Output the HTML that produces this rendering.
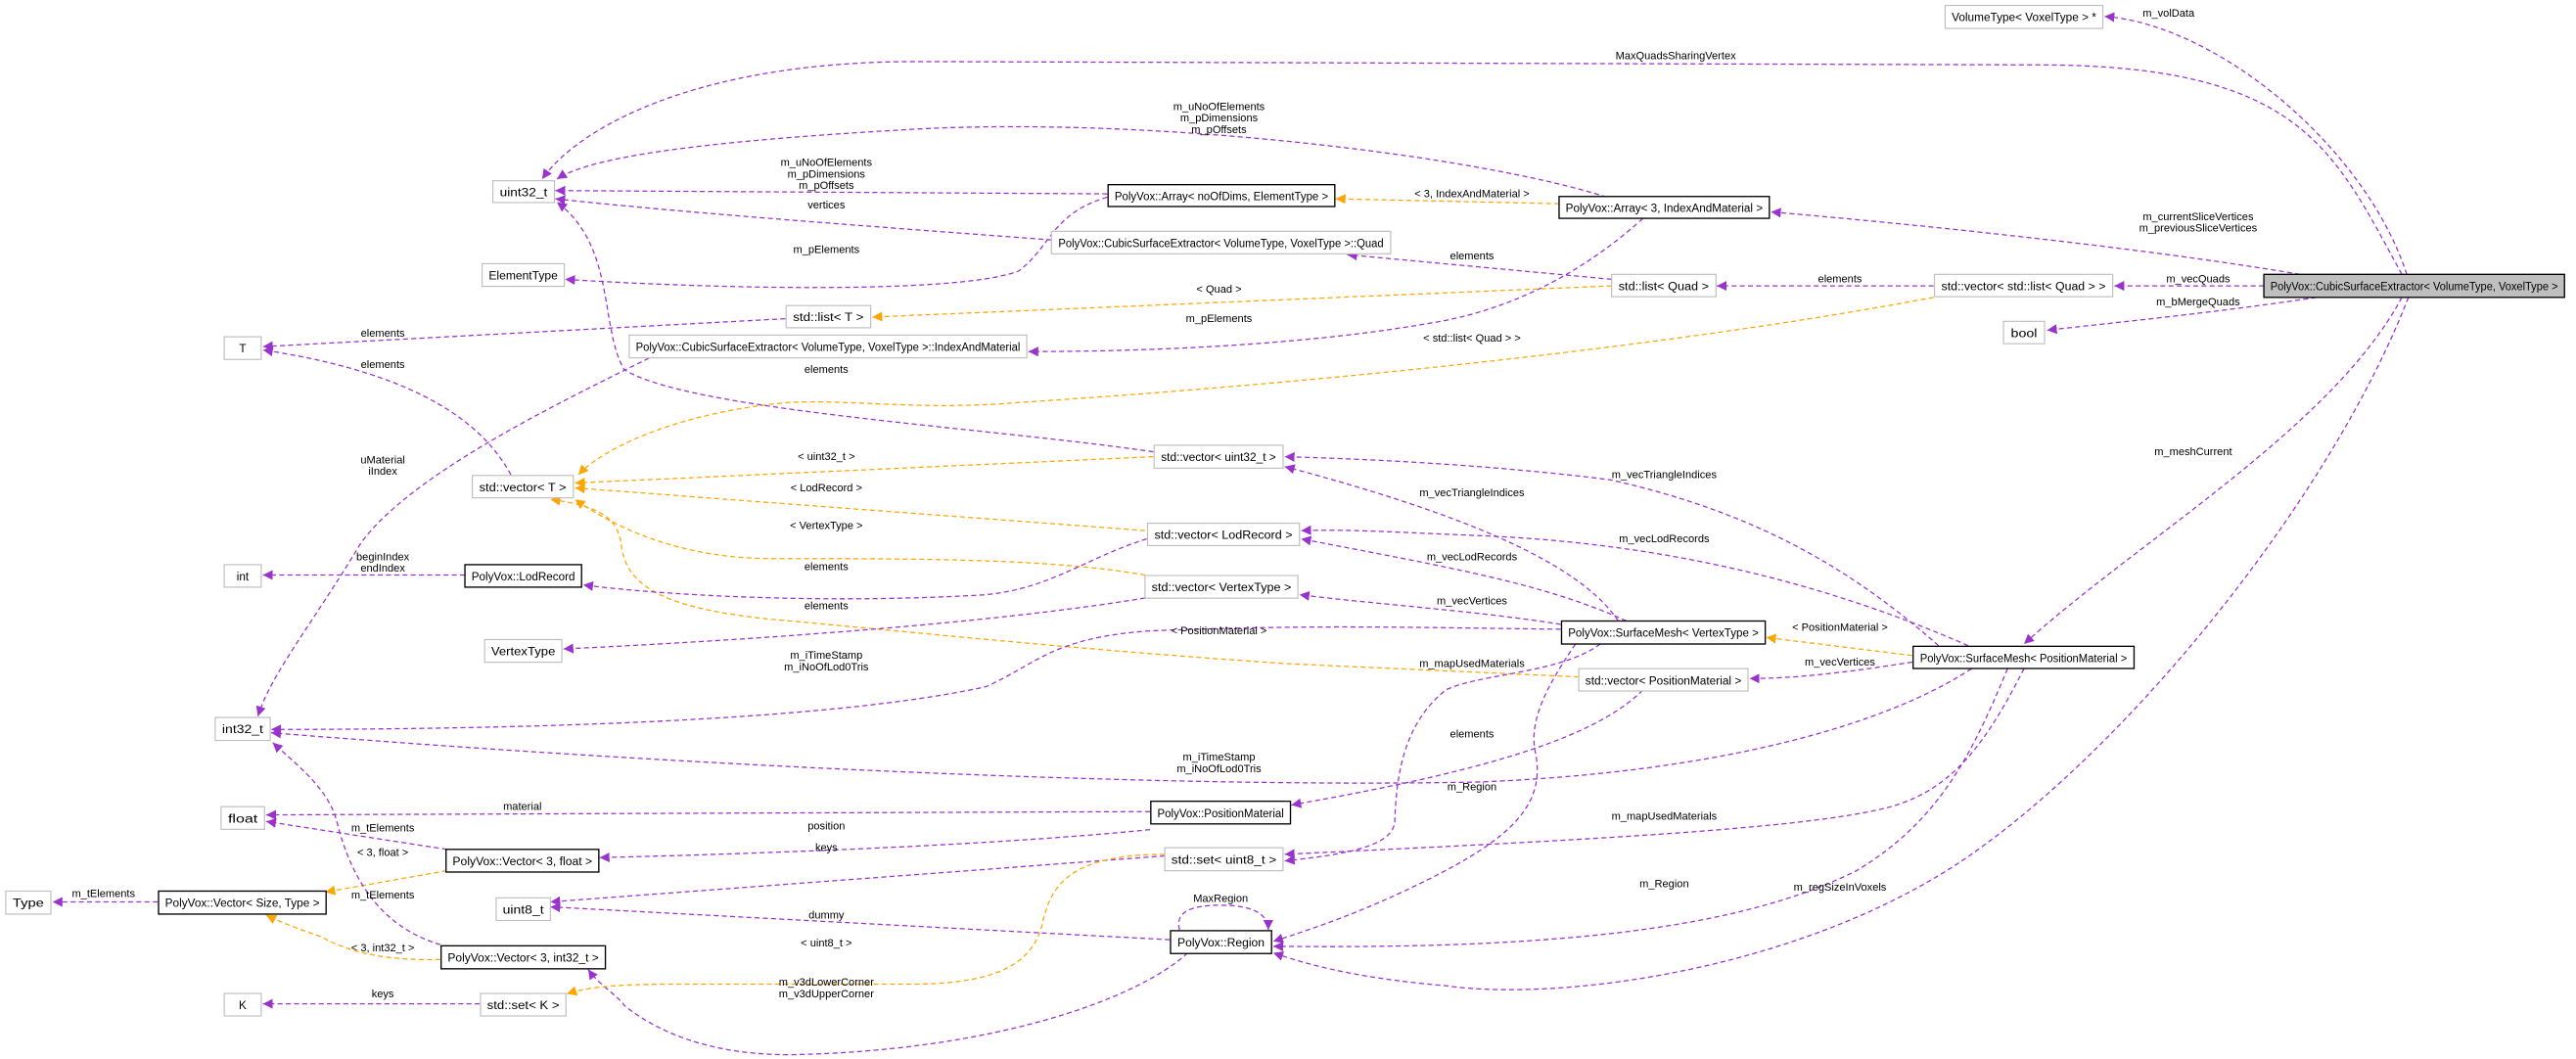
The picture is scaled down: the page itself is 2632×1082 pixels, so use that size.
<!DOCTYPE html>
<html><head><meta charset="utf-8"><style>
html,body{margin:0;padding:0;background:#fff;}
svg{display:block;}
text{font-family:"Liberation Sans","DejaVu Sans",sans-serif;font-size:7px;fill:#000;}
.n{fill:#fff;stroke:#bfbfbf;stroke-width:0.7;}
.b{fill:#fff;stroke:#000;stroke-width:0.8;}
.p{fill:none;stroke:#9a32cd;stroke-width:0.75;stroke-dasharray:3,2;marker-end:url(#ap);}
.o{fill:none;stroke:#ffa500;stroke-width:0.75;stroke-dasharray:3,2;marker-end:url(#ao);}
.l{font-size:6.6px;text-anchor:middle;}
</style></head><body>
<svg width="2632" height="1082" viewBox="0 0 2632 1082" xmlns="http://www.w3.org/2000/svg">
<defs>
<marker id="ap" markerUnits="userSpaceOnUse" markerWidth="8" markerHeight="8" refX="6" refY="3" orient="auto"><path d="M0,0 L6,3 L0,6 Z" fill="#9a32cd"/></marker>
<marker id="ao" markerUnits="userSpaceOnUse" markerWidth="8" markerHeight="8" refX="6" refY="3" orient="auto"><path d="M0,0 L6,3 L0,6 Z" fill="#ffa500"/></marker>
</defs>
<g transform="scale(1.67857)">
<path class="p" d="M1465,167 C1440,90 1350,15 1281,10"/>
<path class="p" d="M1462,167 C1420,90 1400,39.5 1240,39.5 L560,37.5 C420,37 350,80 330,109"/>
<path class="p" d="M978,120 C900,95 700,70 550,79 C430,86 360,95 339,109"/>
<path class="p" d="M674,118 L338,116"/>
<path class="p" d="M640,146 C560,140 420,130 338,121"/>
<path class="p" d="M674,120 C640,130 640,150 620,165 C580,180 420,175 344,170"/>
<path class="o" d="M949,124 L813,121"/>
<path class="p" d="M1000,133 C970,160 930,185 880,195 C800,210 700,214 626,214"/>
<path class="p" d="M981,170 L820,155"/>
<path class="o" d="M981,174 L531,193"/>
<path class="p" d="M1177,174 L1045,174"/>
<path class="p" d="M1378,174 L1287,174"/>
<path class="p" d="M1400,167 C1300,150 1150,135 1078,129"/>
<path class="p" d="M1410,181 C1350,190 1300,195 1246,201"/>
<path class="o" d="M1177,181 C1050,205 850,230 620,245 C560,250 520,243 480,245 C420,250 370,270 352,289"/>
<path class="p" d="M395,218 C330,250 250,290 220,330 C190,380 165,410 157,436"/>
<path class="p" d="M702,275 C600,260 420,250 380,225 C365,200 375,150 339,123"/>
<path class="p" d="M311,289 C290,250 240,225 160,213"/>
<path class="p" d="M478,194 L160,211"/>
<path class="o" d="M702,278 L350,294"/>
<path class="o" d="M697,323 L350,297"/>
<path class="o" d="M697,350 C640,340 560,340 470,340 C420,340 380,325 350,304"/>
<path class="o" d="M961,412 L784,404 C650,395 560,385 470,377 C400,370 380,355 378,330 C375,315 365,308 335,304"/>
<path class="p" d="M698,328 C660,340 640,358 600,362 C500,368 400,362 355,356"/>
<path class="p" d="M283,350 L160,350"/>
<path class="p" d="M697,364 C600,380 450,390 343,395"/>
<path class="p" d="M985,378 C960,340 880,310 782,284"/>
<path class="p" d="M1180,393 C1120,340 1060,310 980,292 C900,282 820,279 782,278"/>
<path class="p" d="M990,378 C940,355 880,345 792,328"/>
<path class="p" d="M1198,393 C1100,350 1000,330 900,326 C850,324 820,322 792,323"/>
<path class="p" d="M950,380 C900,372 840,368 791,362"/>
<path class="p" d="M950,383 C860,382 800,380 700,384 C640,388 630,405 600,418 C500,440 300,444 165,444"/>
<path class="p" d="M1200,407 C1150,440 1050,470 900,476 C700,480 400,465 165,446"/>
<path class="o" d="M1164,399 L1075,388"/>
<path class="p" d="M1164,403 C1120,410 1090,413 1065,413"/>
<path class="p" d="M1000,420 C970,450 900,470 786,490"/>
<path class="p" d="M700,494 L162,496"/>
<path class="p" d="M700,505 C600,515 450,520 365,522"/>
<path class="p" d="M272,517 L162,500"/>
<path class="o" d="M272,530 L198,543"/>
<path class="p" d="M96,549 L32,549"/>
<path class="o" d="M268,584 C230,585 210,578 195,570 C180,565 168,560 162,557"/>
<path class="p" d="M268,575 C235,565 215,540 205,500 C200,480 180,465 166,452"/>
<path class="p" d="M723,580 C690,610 600,640 480,642 C420,642 390,620 380,612 C375,605 365,600 358,590"/>
<path class="p" d="M712,572 L335,552"/>
<path class="p" d="M709,521 L335,549"/>
<path class="o" d="M709,520 C650,520 640,540 635,560 C630,585 610,598 560,599 L420,599 C380,599 360,600 345,605"/>
<path class="p" d="M292,611 L160,611"/>
<path class="p" d="M718,566 C715,555 725,551 743,551 C762,551 772,556 772,566"/>
<path class="p" d="M974,392 C950,410 900,410 880,420 C855,440 850,470 849,500 C848,515 820,520 782,524"/>
<path class="p" d="M959,392 C940,420 930,440 935,460 C940,490 920,510 870,535 C830,555 800,565 775,573"/>
<path class="p" d="M1232,407 C1210,450 1190,480 1151,491 C1100,505 950,512 782,520"/>
<path class="p" d="M1222,407 C1200,460 1180,500 1130,530 C1060,565 950,578 775,576"/>
<path class="p" d="M1462,181 C1420,260 1300,330 1232,392"/>
<path class="p" d="M1466,181 C1420,300 1300,450 1200,520 C1100,590 950,610 880,600 C820,595 790,585 775,580"/>
<text class="l" x="1320" y="10">m_volData</text>
<text class="l" x="1020" y="36">MaxQuadsSharingVertex</text>
<text class="l" x="742" y="67">m_uNoOfElements</text><text class="l" x="742" y="74">m_pDimensions</text><text class="l" x="742" y="81">m_pOffsets</text>
<text class="l" x="503" y="101">m_uNoOfElements</text><text class="l" x="503" y="108">m_pDimensions</text><text class="l" x="503" y="115">m_pOffsets</text>
<text class="l" x="503" y="127">vertices</text>
<text class="l" x="503" y="154">m_pElements</text>
<text class="l" x="896" y="120">&lt; 3, IndexAndMaterial &gt;</text>
<text class="l" x="742" y="196">m_pElements</text>
<text class="l" x="896" y="158">elements</text>
<text class="l" x="742" y="178">&lt; Quad &gt;</text>
<text class="l" x="1120" y="172">elements</text>
<text class="l" x="1338" y="172">m_vecQuads</text>
<text class="l" x="1338" y="134">m_currentSliceVertices</text><text class="l" x="1338" y="141">m_previousSliceVertices</text>
<text class="l" x="1338" y="186">m_bMergeQuads</text>
<text class="l" x="896" y="208">&lt; std::list&lt; Quad &gt; &gt;</text>
<text class="l" x="503" y="227">elements</text>
<text class="l" x="233" y="205">elements</text>
<text class="l" x="233" y="224">elements</text>
<text class="l" x="233" y="282">uMaterial</text><text class="l" x="233" y="289">iIndex</text>
<text class="l" x="503" y="280">&lt; uint32_t &gt;</text>
<text class="l" x="503" y="299">&lt; LodRecord &gt;</text>
<text class="l" x="503" y="322">&lt; VertexType &gt;</text>
<text class="l" x="233" y="341">beginIndex</text><text class="l" x="233" y="348">endIndex</text>
<text class="l" x="503" y="347">elements</text>
<text class="l" x="503" y="371">elements</text>
<text class="l" x="1013" y="291">m_vecTriangleIndices</text>
<text class="l" x="896" y="302">m_vecTriangleIndices</text>
<text class="l" x="1013" y="330">m_vecLodRecords</text>
<text class="l" x="896" y="341">m_vecLodRecords</text>
<text class="l" x="896" y="368">m_vecVertices</text>
<text class="l" x="742" y="386">&lt; PositionMaterial &gt;</text>
<text class="l" x="503" y="401">m_iTimeStamp</text><text class="l" x="503" y="408">m_iNoOfLod0Tris</text>
<text class="l" x="896" y="406">m_mapUsedMaterials</text>
<text class="l" x="1120" y="384">&lt; PositionMaterial &gt;</text>
<text class="l" x="1120" y="405">m_vecVertices</text>
<text class="l" x="896" y="449">elements</text>
<text class="l" x="896" y="481">m_Region</text>
<text class="l" x="742" y="463">m_iTimeStamp</text><text class="l" x="742" y="470">m_iNoOfLod0Tris</text>
<text class="l" x="318" y="493">material</text>
<text class="l" x="503" y="505">position</text>
<text class="l" x="233" y="506">m_tElements</text>
<text class="l" x="1013" y="499">m_mapUsedMaterials</text>
<text class="l" x="233" y="521">&lt; 3, float &gt;</text>
<text class="l" x="503" y="518">keys</text>
<text class="l" x="63" y="546">m_tElements</text>
<text class="l" x="233" y="547">m_tElements</text>
<text class="l" x="503" y="559">dummy</text>
<text class="l" x="1013" y="540">m_Region</text>
<text class="l" x="1120" y="542">m_regSizeInVoxels</text>
<text class="l" x="743" y="549">MaxRegion</text>
<text class="l" x="233" y="579">&lt; 3, int32_t &gt;</text>
<text class="l" x="503" y="576">&lt; uint8_t &gt;</text>
<text class="l" x="503" y="600">m_v3dLowerCorner</text><text class="l" x="503" y="607">m_v3dUpperCorner</text>
<text class="l" x="233" y="607">keys</text>
<text class="l" x="1335" y="277">m_meshCurrent</text>
<rect x="1378" y="167" width="183" height="14" fill="#bfbfbf" stroke="#000" stroke-width="0.8"/><text x="1469.5" y="176.6" text-anchor="middle" textLength="175" lengthAdjust="spacingAndGlyphs">PolyVox::CubicSurfaceExtractor&lt; VolumeType, VoxelType &gt;</text>
<rect class="n" x="1184" y="3.3" width="96" height="14"/><text x="1232" y="12.9" text-anchor="middle" textLength="88" lengthAdjust="spacingAndGlyphs">VolumeType&lt; VoxelType &gt; *</text>
<rect class="n" x="300" y="110" width="37.5" height="13.3"/><text x="318.7" y="119.3" text-anchor="middle" textLength="29" lengthAdjust="spacingAndGlyphs">uint32_t</text>
<rect class="b" x="674.5" y="112.4" width="138" height="13.3"/><text x="743.5" y="121.7" text-anchor="middle" textLength="130" lengthAdjust="spacingAndGlyphs">PolyVox::Array&lt; noOfDims, ElementType &gt;</text>
<rect class="b" x="949" y="119.6" width="128" height="13.3"/><text x="1013" y="128.9" text-anchor="middle" textLength="120" lengthAdjust="spacingAndGlyphs">PolyVox::Array&lt; 3, IndexAndMaterial &gt;</text>
<rect class="n" x="640" y="140.8" width="206.5" height="13.7"/><text x="743.2" y="150.3" text-anchor="middle" textLength="198" lengthAdjust="spacingAndGlyphs">PolyVox::CubicSurfaceExtractor&lt; VolumeType, VoxelType &gt;::Quad</text>
<rect class="n" x="293.5" y="160.5" width="50" height="13.8"/><text x="318.5" y="170" text-anchor="middle" textLength="42" lengthAdjust="spacingAndGlyphs">ElementType</text>
<rect class="n" x="478.5" y="186" width="51.5" height="13.5"/><text x="504.2" y="195.5" text-anchor="middle" textLength="43" lengthAdjust="spacingAndGlyphs">std::list&lt; T &gt;</text>
<rect class="n" x="981" y="167" width="63.5" height="13.6"/><text x="1012.7" y="176.6" text-anchor="middle" textLength="55" lengthAdjust="spacingAndGlyphs">std::list&lt; Quad &gt;</text>
<rect class="n" x="1177.5" y="167" width="108.5" height="13.6"/><text x="1231.7" y="176.6" text-anchor="middle" textLength="100" lengthAdjust="spacingAndGlyphs">std::vector&lt; std::list&lt; Quad &gt; &gt;</text>
<rect class="n" x="1219.5" y="195.6" width="25" height="13.6"/><text x="1232" y="205.2" text-anchor="middle" textLength="16" lengthAdjust="spacingAndGlyphs">bool</text>
<rect class="n" x="136.5" y="205" width="22.5" height="13.8"/><text x="147.7" y="214.6" text-anchor="middle">T</text>
<rect class="n" x="383" y="204" width="242" height="13.8"/><text x="504" y="213.6" text-anchor="middle" textLength="234" lengthAdjust="spacingAndGlyphs">PolyVox::CubicSurfaceExtractor&lt; VolumeType, VoxelType &gt;::IndexAndMaterial</text>
<rect class="n" x="702.5" y="271" width="78.5" height="14"/><text x="741.7" y="280.6" text-anchor="middle" textLength="70" lengthAdjust="spacingAndGlyphs">std::vector&lt; uint32_t &gt;</text>
<rect class="n" x="287.5" y="289.4" width="61.5" height="13.6"/><text x="318.2" y="299" text-anchor="middle" textLength="53" lengthAdjust="spacingAndGlyphs">std::vector&lt; T &gt;</text>
<rect class="n" x="698.5" y="318.5" width="92.5" height="13.6"/><text x="744.7" y="328.1" text-anchor="middle" textLength="84" lengthAdjust="spacingAndGlyphs">std::vector&lt; LodRecord &gt;</text>
<rect class="n" x="136.5" y="343.7" width="22.5" height="13.7"/><text x="147.7" y="353.3" text-anchor="middle">int</text>
<rect class="b" x="283" y="343.7" width="71" height="13.7"/><text x="318.5" y="353.3" text-anchor="middle" textLength="63" lengthAdjust="spacingAndGlyphs">PolyVox::LodRecord</text>
<rect class="n" x="697" y="350.3" width="93" height="13.8"/><text x="743.5" y="359.9" text-anchor="middle" textLength="85" lengthAdjust="spacingAndGlyphs">std::vector&lt; VertexType &gt;</text>
<rect class="n" x="295" y="389.3" width="47" height="13.8"/><text x="318.5" y="398.9" text-anchor="middle" textLength="39" lengthAdjust="spacingAndGlyphs">VertexType</text>
<rect class="b" x="950.5" y="378" width="124" height="14"/><text x="1012.5" y="387.6" text-anchor="middle" textLength="116" lengthAdjust="spacingAndGlyphs">PolyVox::SurfaceMesh&lt; VertexType &gt;</text>
<rect class="b" x="1164.5" y="393.4" width="134.5" height="13.5"/><text x="1231.7" y="402.9" text-anchor="middle" textLength="126" lengthAdjust="spacingAndGlyphs">PolyVox::SurfaceMesh&lt; PositionMaterial &gt;</text>
<rect class="n" x="961" y="407" width="103" height="13.6"/><text x="1012.5" y="416.6" text-anchor="middle" textLength="95" lengthAdjust="spacingAndGlyphs">std::vector&lt; PositionMaterial &gt;</text>
<rect class="n" x="131" y="436.7" width="33.5" height="14"/><text x="147.7" y="446.3" text-anchor="middle" textLength="25" lengthAdjust="spacingAndGlyphs">int32_t</text>
<rect class="n" x="134.6" y="491" width="26.4" height="13.8"/><text x="147.8" y="500.6" text-anchor="middle" textLength="18" lengthAdjust="spacingAndGlyphs">float</text>
<rect class="b" x="700.5" y="487.7" width="85" height="13.8"/><text x="743" y="497.3" text-anchor="middle" textLength="77" lengthAdjust="spacingAndGlyphs">PolyVox::PositionMaterial</text>
<rect class="b" x="271.5" y="517" width="93" height="13.8"/><text x="318" y="526.6" text-anchor="middle" textLength="85" lengthAdjust="spacingAndGlyphs">PolyVox::Vector&lt; 3, float &gt;</text>
<rect class="n" x="709" y="516" width="72" height="14"/><text x="745" y="525.6" text-anchor="middle" textLength="64" lengthAdjust="spacingAndGlyphs">std::set&lt; uint8_t &gt;</text>
<rect class="n" x="3.5" y="542.4" width="27.5" height="14"/><text x="17.2" y="552" text-anchor="middle" textLength="19" lengthAdjust="spacingAndGlyphs">Type</text>
<rect class="b" x="96.5" y="542.4" width="102" height="14"/><text x="147.5" y="552" text-anchor="middle" textLength="94" lengthAdjust="spacingAndGlyphs">PolyVox::Vector&lt; Size, Type &gt;</text>
<rect class="n" x="302" y="546.5" width="33" height="13.8"/><text x="318.5" y="556.1" text-anchor="middle" textLength="25" lengthAdjust="spacingAndGlyphs">uint8_t</text>
<rect class="b" x="712.5" y="566.5" width="61.5" height="13.9"/><text x="743.2" y="576.1" text-anchor="middle" textLength="53" lengthAdjust="spacingAndGlyphs">PolyVox::Region</text>
<rect class="b" x="268.5" y="575.7" width="100" height="14"/><text x="318.5" y="585.3" text-anchor="middle" textLength="92" lengthAdjust="spacingAndGlyphs">PolyVox::Vector&lt; 3, int32_t &gt;</text>
<rect class="n" x="136.5" y="604.7" width="22.5" height="13.7"/><text x="147.7" y="614.3" text-anchor="middle">K</text>
<rect class="n" x="292.5" y="604.7" width="52" height="13.7"/><text x="318.5" y="614.3" text-anchor="middle" textLength="44" lengthAdjust="spacingAndGlyphs">std::set&lt; K &gt;</text>
</g>
</svg>
</body></html>
